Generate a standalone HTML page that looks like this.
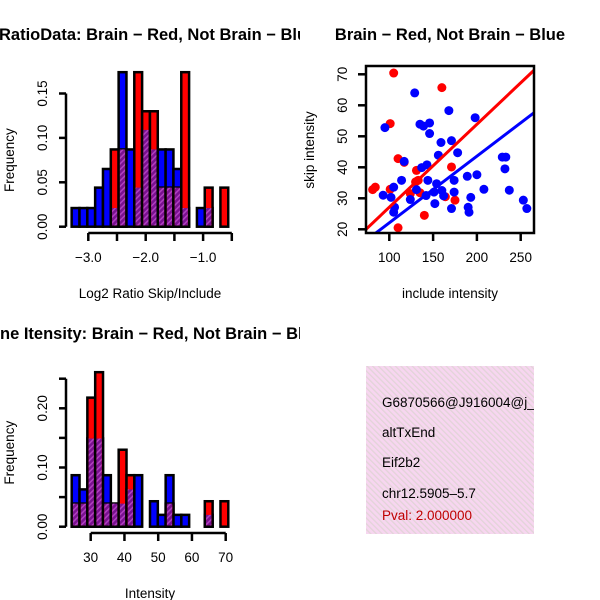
<!DOCTYPE html>
<html><head><meta charset="utf-8"><style>
html,body{margin:0;padding:0;background:#fff}
svg{display:block;font-family:"Liberation Sans",sans-serif}
</style></head><body>
<svg id="c" width="600" height="600" viewBox="0 0 600 600" xmlns="http://www.w3.org/2000/svg">
<defs>
<pattern id="hatch" width="4" height="4" patternUnits="userSpaceOnUse" patternTransform="rotate(45)">
<rect width="4" height="4" fill="#7a1190"/><rect width="1.5" height="4" fill="#b040c0"/></pattern>
<pattern id="pink" width="4" height="4" patternUnits="userSpaceOnUse" patternTransform="rotate(-45)">
<rect width="4" height="4" fill="#f7d6f0"/><rect width="1.3" height="4" fill="#e2d4d8"/></pattern>
<clipPath id="clipL"><rect x="0" y="0" width="300" height="600"/></clipPath>
<clipPath id="clipS"><rect x="366" y="66" width="168" height="167"/></clipPath>
<clipPath id="clipBox"><rect x="366" y="366" width="168" height="168"/></clipPath>
</defs>
<g id="p1"></g>
<g id="p2"></g>
<g id="p3"></g>
<g id="p4" clip-path="url(#clipBox)">
<rect x="366" y="366" width="168" height="168" fill="url(#pink)"/>
<text x="382" y="407" font-size="13.5">G6870566@J916004@j_</text>
<text x="382" y="437" font-size="13.5">altTxEnd</text>
<text x="382" y="467" font-size="13.5">Eif2b2</text>
<text x="382" y="498" font-size="13.5">chr12.5905–5.7</text>
<text x="382" y="520" font-size="13.5" fill="#c00000">Pval: 2.000000</text>
</g>
</svg>
<script>
// Histogram 1 data
const h1Start = -3.29, h1Width = 0.1364;
const h1Blue = [0.021,0.021,0.021,0.044,0.065,0.021,0.174,0.087,0.044,0.109,0.087,0.087,0.087,0.065,0.021,0,0.021,0.021,0,0];
const h1Red  = [0,0,0,0,0,0.087,0.087,0,0.174,0.130,0.130,0.044,0.044,0.044,0.174,0,0,0.044,0,0.044];
const h1XTicks = [-3.0,-2.0,-1.0];
const h1XMinor = [-3.0,-2.5,-2.0,-1.5,-1.0,-0.5];
const h1YTicks = [0.00,0.05,0.10,0.15];
// Histogram 2 data
const h2Start = 24.37, h2Width = 2.32;
const h2Blue = [0.087,0.063,0.149,0.149,0.087,0.039,0.039,0.063,0.087,0,0.043,0.020,0.087,0.020,0.020,0,0,0.020,0,0];
const h2Red  = [0.039,0.039,0.218,0.261,0.039,0.039,0.130,0.087,0,0,0,0,0.039,0,0,0,0,0.043,0,0.043];
const h2XTicks = [30,40,50,60,70];
const h2YTicks = [0.00,0.05,0.10,0.15,0.20,0.25];
const h2YLabels = ["0.00","","0.10","","0.20",""];
// Scatter data
const blueX = [129,95,135,139,146,146,159,168,171,178,156,198,117,137,143,189,200,114,144,154,174,105,93,102,131,124,142,151,160,162,174,152,171,190,191,193,208,105,106,229,233,232,237,253,257];
const blueY = [64,52.8,53.9,53.3,54.3,50.9,48,58.3,48.6,44.7,43.9,56,41.9,39.9,40.8,37.1,37.6,35.8,35.8,34.7,35.8,33.6,31,30.3,32.8,29.6,30.9,32,32.5,30.8,32,28.3,26.7,27.1,25.5,30.3,32.9,25.5,27.1,43.3,43.3,39.5,32.6,29.4,26.7];
const redX = [105,160,101,110,117,171,81,84,101,131,133,130,124,135,164,175,140,110];
const redY = [70.4,65.7,54.1,42.8,41.6,40.1,32.8,33.6,32.9,39,35.8,35.3,31.5,31.8,30.5,29.4,24.5,20.5];
const redFit = [0.37,0.2675];
const blueFit = [0.61,0.2149];
const sXTicks = [100,150,200,250];
const sYTicks = [20,30,40,50,60,70];

const NS="http://www.w3.org/2000/svg";
const FS=13.5, TFS=16.5;
function mk(parent,tag,attrs,text){const e=document.createElementNS(NS,tag);for(const k in attrs)e.setAttribute(k,attrs[k]);if(text!==undefined)e.textContent=text;parent.appendChild(e);return e;}

function hist(g, start, width, blue, red, xs, ys, xTicks, xMinor, yTicks, yLabels, xLab, title, axY){
  for(let i=0;i<blue.length;i++){
    const x0=xs(start+i*width), x1=xs(start+(i+1)*width);
    const b=blue[i], r=red[i], m=Math.min(b,r);
    if(b>0){const e=mk(g,'rect',{x:x0,y:ys(b),width:x1-x0,height:ys(0)-ys(b),fill:'#0000ff',stroke:'#000','stroke-width':2.5});
      
      }
    if(r>0){const e=mk(g,'rect',{x:x0,y:ys(r),width:x1-x0,height:ys(0)-ys(r),fill:'#ff0000',stroke:'#000','stroke-width':2.5});
      
      }
    if(m>0){const e=mk(g,'rect',{x:x0+1.25,y:ys(m),width:x1-x0-2.5,height:ys(0)-ys(m)-1.25,fill:'url(#hatch)'});
      
      }
  }
  const xa=mk(g,'g',{});
  
  
  mk(xa,'line',{x1:xs(xMinor[0]),x2:xs(xMinor[xMinor.length-1]),y1:axY,y2:axY,stroke:'#000','stroke-width':2.5});
  xMinor.forEach(v=>mk(xa,'line',{x1:xs(v),x2:xs(v),y1:axY,y2:axY+8,stroke:'#000','stroke-width':2.5}));
  xTicks.forEach(v=>{const t=mk(xa,'text',{x:xs(v),y:axY+29,'font-size':FS,'text-anchor':'middle'},String(v).replace('-','−').replace(/^(−?\d)$/,'$1.0'));
    
    });
  const ya=mk(g,'g',{});
  
  
  mk(ya,'line',{x1:66,x2:66,y1:ys(yTicks[0]),y2:ys(yTicks[yTicks.length-1]),stroke:'#000','stroke-width':2.5});
  yTicks.forEach((v,i)=>{mk(ya,'line',{x1:59,x2:66,y1:ys(v),y2:ys(v),stroke:'#000','stroke-width':2.5});
    if(yLabels[i]){const t=mk(ya,'text',{x:0,y:0,'font-size':FS,'text-anchor':'middle',transform:`translate(47,${ys(v)}) rotate(-90)`},yLabels[i]);
      
      }});
  const yl=mk(g,'text',{'font-size':FS,'text-anchor':'middle',transform:`translate(14,${(ys(yTicks[0])+ys(yTicks[yTicks.length-1]))/2}) rotate(-90)`},'Frequency');
  
  
  const xl=mk(g,'text',{x:150,y:axY+65,'font-size':FS,'text-anchor':'middle'},xLab);
  
  
  const tt=mk(g,'text',{x:title[1],y:title[2],'font-size':TFS,'font-weight':'bold','text-anchor':'start','clip-path':'url(#clipL)'},title[0]);
  
  
}

const xs1=v=>145.7+(v+2)*57.4, ys1=v=>226.7-v*888;
hist(document.getElementById('p1'),h1Start,h1Width,h1Blue,h1Red,xs1,ys1,h1XTicks,h1XMinor,h1YTicks,["0.00","0.05","0.10","0.15"],'Log2 Ratio Skip/Include',['Log2 RatioData: Brain − Red, Not Brain − Blue',-45,40],233);
const xs3=v=>90.7+(v-30)*3.375, ys3=v=>526.7-v*592;
hist(document.getElementById('p3'),h2Start,h2Width,h2Blue,h2Red,xs3,ys3,h2XTicks,h2XTicks,h2YTicks,h2YLabels,'Intensity',['Gene Itensity: Brain − Red, Not Brain − Blue',-22,339],533);

const g2=document.getElementById('p2');
const sx=v=>389.3+(v-100)*0.876, sy=v=>229.3-(v-20)*3.1;
const pts=mk(g2,'g',{'clip-path':'url(#clipS)'});
redX.forEach((v,i)=>{const c=mk(pts,'circle',{cx:sx(v),cy:sy(redY[i]),r:4.5,fill:'#ff0000'});
  
  });
blueX.forEach((v,i)=>{const c=mk(pts,'circle',{cx:sx(v),cy:sy(blueY[i]),r:4.5,fill:'#0000ff'});
  
  });
[[redFit,'#ff0000','red-fit-line'],[blueFit,'#0000ff','blue-fit-line']].forEach(([f,col,n])=>{
  const a=60,b=280;
  const l=mk(pts,'line',{x1:sx(a),y1:sy(f[0]+f[1]*a),x2:sx(b),y2:sy(f[0]+f[1]*b),stroke:col,'stroke-width':3});
  
  });
const box=mk(g2,'rect',{x:366,y:66,width:168,height:167,fill:'none',stroke:'#000','stroke-width':2.5});


sXTicks.forEach(v=>{mk(g2,'line',{x1:sx(v),x2:sx(v),y1:233,y2:241,stroke:'#000','stroke-width':2.5});
  const t=mk(g2,'text',{x:sx(v),y:262,'font-size':FS,'text-anchor':'middle'},v);
  
  });
sYTicks.forEach(v=>{mk(g2,'line',{x1:358,x2:366,y1:sy(v),y2:sy(v),stroke:'#000','stroke-width':2.5});
  const t=mk(g2,'text',{'font-size':FS,'text-anchor':'middle',transform:`translate(347,${sy(v)}) rotate(-90)`},v);
  
  });
const sxl=mk(g2,'text',{x:450,y:298,'font-size':FS,'text-anchor':'middle'},'include intensity');


const syl=mk(g2,'text',{'font-size':FS,'text-anchor':'middle',transform:'translate(314,150) rotate(-90)'},'skip intensity');


const st=mk(g2,'text',{x:450,y:40,'font-size':TFS,'font-weight':'bold','text-anchor':'middle'},'Brain − Red, Not Brain − Blue');


</script>
</body></html>
